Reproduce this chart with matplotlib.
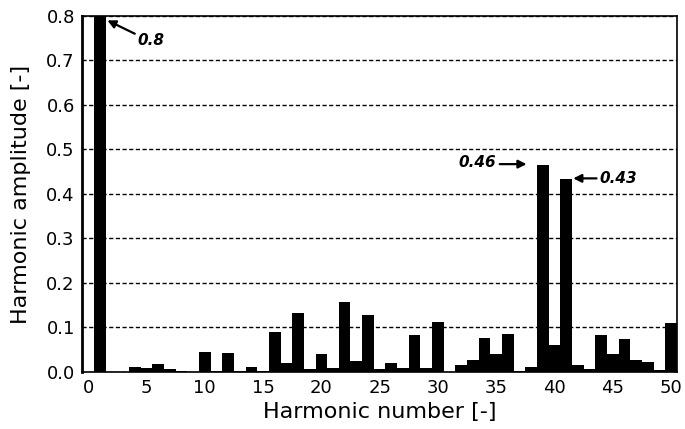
import matplotlib
matplotlib.use("Agg")
import matplotlib.pyplot as plt

# harmonic orders and amplitudes
harmonics = list(range(1, 51))
amplitudes = [
    0.800, 0.000, 0.000, 0.011, 0.008, 0.018, 0.007, 0.003, 0.001, 0.045,
    0.003, 0.043, 0.003, 0.012, 0.003, 0.089, 0.020, 0.132, 0.006, 0.040,
    0.008, 0.158, 0.025, 0.129, 0.006, 0.020, 0.008, 0.082, 0.010, 0.112,
    0.001, 0.015, 0.026, 0.077, 0.041, 0.085, 0.002, 0.011, 0.466, 0.061,
    0.434, 0.015, 0.007, 0.082, 0.041, 0.075, 0.026, 0.022, 0.004, 0.109,
]
xticks = list(range(0, 51, 5))
yticks = [0.0, 0.1, 0.2, 0.3, 0.4, 0.5, 0.6, 0.7, 0.8]

plt.rcParams['font.family'] = ['DejaVu Sans']

fig = plt.figure(figsize=(6.85, 4.29), dpi=100)
ax = fig.add_axes([0.1193, 0.1329, 0.869, 0.830])

ax.bar(harmonics, amplitudes, width=1.0, color='black', zorder=2)

ax.set_xlim(-0.55, 50.5)
ax.set_ylim(0, 0.8)
ax.set_xticks(xticks)
ax.set_yticks(yticks)
ax.set_yticklabels(['%.1f' % v for v in yticks])
ax.tick_params(axis='both', length=0, labelsize=13, colors='black')
ax.tick_params(axis='y', pad=5)
ax.tick_params(axis='x', pad=5)

ax.set_axisbelow(True)
ax.yaxis.grid(True, linestyle=(0, (3, 1.8)), color='black', linewidth=1.0)

for side in ['left', 'right', 'top', 'bottom']:
    ax.spines[side].set_color('black')
    ax.spines[side].set_linewidth(1.2)
ax.spines['left'].set_linewidth(2.0)

ax.set_xlabel('Harmonic number [-]', fontsize=16, labelpad=4)
ax.set_ylabel('Harmonic amplitude [-]', fontsize=16, labelpad=11)

arrow = dict(arrowstyle='-|>', color='black', lw=1.6, mutation_scale=12,
             shrinkA=0, shrinkB=0)
txt = dict(fontsize=11, fontweight='bold', fontstyle='italic')

# 0.8 label
ax.annotate('', xy=(1.65, 0.790), xytext=(4.0, 0.760), arrowprops=arrow)
ax.text(4.2, 0.744, '0.8', ha='left', va='center', **txt)

# 0.46 label
ax.annotate('', xy=(37.6, 0.467), xytext=(35.3, 0.467), arrowprops=arrow)
ax.text(35.0, 0.471, '0.46', ha='right', va='center', **txt)

# 0.43 label
ax.annotate('', xy=(41.6, 0.435), xytext=(43.6, 0.435), arrowprops=arrow)
ax.text(43.85, 0.435, '0.43', ha='left', va='center', **txt)

fig.savefig('out.png', dpi=100)
